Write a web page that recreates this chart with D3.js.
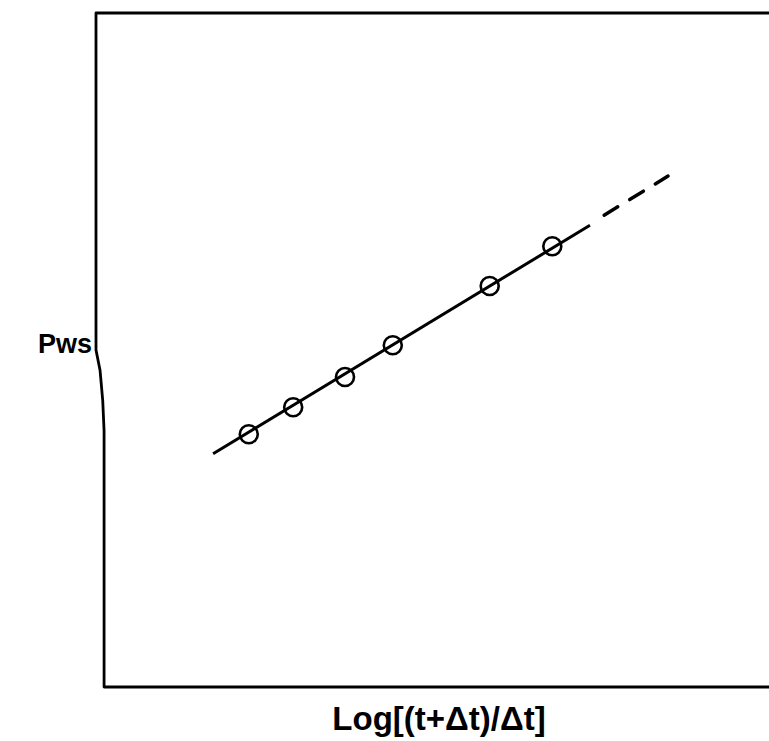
<!DOCTYPE html>
<html>
<head>
<meta charset="utf-8">
<script src="https://cdn.jsdelivr.net/npm/d3@7"></script>
<style>
  body { margin: 0; background: #fff; }
  svg { display: block; }
</style>
</head>
<body>
<script>
// measured points (unitless, 0..1 across the frame)
var pointX = [0.227, 0.293, 0.370, 0.441, 0.585, 0.678];
var pointY = [0.375, 0.415, 0.460, 0.507, 0.595, 0.654];
// fitted straight line, solid part then extrapolated dashed part
var solidX = [0.174, 0.734];
var solidY = [0.346, 0.685];
var dashX = [0.755, 0.850];
var dashY = [0.700, 0.758];
// hand-drawn frame (left edge has a small kink)
var frameX = [1.000, 0.000, 0.000, 0.006, 0.010, 0.012, 0.012, 1.000];
var frameY = [1.000, 1.000, 0.500, 0.470, 0.425, 0.380, 0.000, 0.000];

var width = 769, height = 741;

var x = d3.scaleLinear().domain([0, 1]).range([96, 769]);
var y = d3.scaleLinear().domain([0, 1]).range([687, 13]);

var svg = d3.select('body').append('svg')
  .attr('width', width)
  .attr('height', height);

var line = d3.line()
  .x(function(d) { return x(d[0]); })
  .y(function(d) { return y(d[1]); });

svg.append('path')
  .datum(d3.zip(frameX, frameY))
  .attr('d', line)
  .attr('fill', 'none')
  .attr('stroke', '#000')
  .attr('stroke-width', 2.8)
  .attr('stroke-linejoin', 'round');

svg.append('path')
  .datum(d3.zip(solidX, solidY))
  .attr('d', line)
  .attr('fill', 'none')
  .attr('stroke', '#000')
  .attr('stroke-width', 3);

svg.append('path')
  .datum(d3.zip(dashX, dashY))
  .attr('d', line)
  .attr('fill', 'none')
  .attr('stroke', '#000')
  .attr('stroke-width', 3.5)
  .attr('stroke-dasharray', '16,14')
  .attr('stroke-linecap', 'round');

svg.selectAll('.pt')
  .data(d3.zip(pointX, pointY))
  .enter()
  .append('circle')
  .attr('class', 'pt')
  .attr('cx', function(d) { return x(d[0]); })
  .attr('cy', function(d) { return y(d[1]); })
  .attr('r', 9)
  .attr('fill', 'none')
  .attr('stroke', '#000')
  .attr('stroke-width', 2.6);

svg.append('text')
  .attr('x', 92)
  .attr('y', 353)
  .attr('text-anchor', 'end')
  .style('font-family', 'Liberation Sans, Arial, sans-serif')
  .style('font-weight', 'bold')
  .style('font-size', '27px')
  .text('Pws');

svg.append('text')
  .attr('x', 439)
  .attr('y', 730)
  .attr('text-anchor', 'middle')
  .style('font-family', 'Liberation Sans, Arial, sans-serif')
  .style('font-weight', 'bold')
  .style('font-size', '33px')
  .text('Log[(t+\u0394t)/\u0394t]');
</script>
</body>
</html>
